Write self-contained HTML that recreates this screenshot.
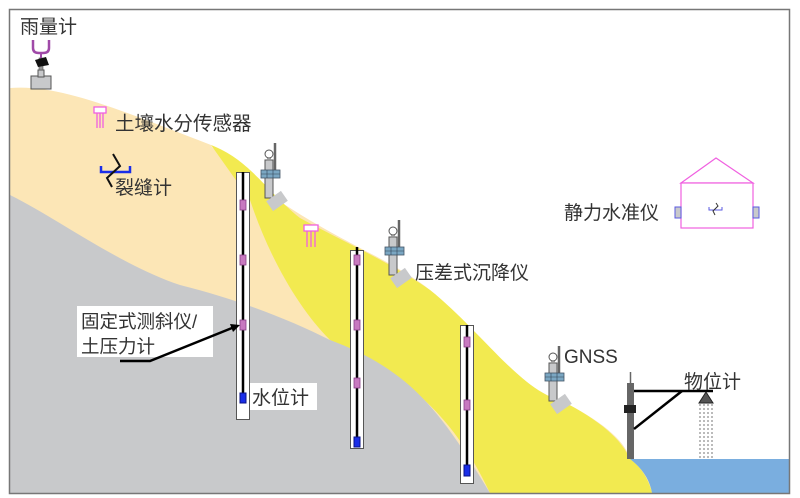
<!DOCTYPE html>
<html><head><meta charset="utf-8"><style>
html,body{margin:0;padding:0;background:#fff;width:800px;height:498px;overflow:hidden}
svg{display:block}
text{font-family:"Liberation Sans","Noto Sans CJK SC",sans-serif;fill:#333}
</style></head><body>
<svg width="800" height="498" viewBox="0 0 800 498" xmlns="http://www.w3.org/2000/svg">
<defs>
<g id="st">
  <rect x="0" y="0" width="8" height="38" fill="#c8c9cb" stroke="#555" stroke-width="1"/>
  <line x1="10" y1="-17" x2="10" y2="12" stroke="#666" stroke-width="2.5"/>
  <circle cx="4" cy="-6" r="4" fill="#fff" stroke="#555"/>
  <rect x="2" y="-2" width="4" height="3" fill="#999"/>
  <rect x="-4" y="10" width="19" height="8" fill="#7aa6c2" stroke="#456" stroke-width="0.8"/>
  <line x1="-4" y1="14" x2="15" y2="14" stroke="#345" stroke-width="0.6"/>
  <line x1="2" y1="10" x2="2" y2="18" stroke="#345" stroke-width="0.6"/>
  <line x1="8" y1="10" x2="8" y2="18" stroke="#345" stroke-width="0.6"/>
  <rect x="3" y="35" width="18" height="12" fill="#c8c9cb" transform="rotate(-35 12 41)"/>
</g>
<g id="mk"><rect x="-3" y="-5" width="6" height="10" fill="#c879c0" stroke="#8a3f88" stroke-width="0.8"/></g>
</defs>
<rect x="10" y="10" width="779" height="483" fill="#fff"/>
<path d="M10 88 C60 84 120 110 211 145 L212 147 C300 230 380 250 430 290 C480 330 520 390 560 400 C600 420 625 440 630 459 L789 459 L789 493 L10 493 Z" fill="#fce6b6"/>
<path d="M211 145 C250 160 265 190 300 218 C340 240 390 262 430 290 C480 330 520 390 560 400 C600 420 622 440 630 459 C645 470 650 485 652 493 L490 493 C460 430 420 380 330 340 C300 310 270 260 250 200 Z" fill="#f2ea50"/>
<path d="M10 195 C60 220 120 265 180 285 C240 300 290 320 330 340 C410 370 440 410 490 493 L10 493 Z" fill="#c8c9cb"/>
<path d="M630 459 L789 459 L789 493 L652 493 C650 480 642 468 630 459 Z" fill="#7aaedf"/>
<rect x="9.5" y="9.5" width="780" height="484" fill="none" stroke="#777" stroke-width="1.5"/>

<rect x="31" y="76" width="20" height="13" fill="#c8c9cb" stroke="#555"/>
<rect x="38" y="70" width="6" height="7" fill="#c8c9cb" stroke="#555"/>
<rect x="39" y="58" width="4" height="12" fill="#999" stroke="#555" stroke-width="0.6"/>
<polygon points="35,60 46,57 49,65 38,67" fill="#111"/>
<path d="M33 40 L33 48 Q33 53 39 53 L43 53 Q49 53 49 48 L49 40" fill="none" stroke="#a04aa8" stroke-width="2.5"/>
<line x1="41" y1="53" x2="41" y2="58" stroke="#a04aa8" stroke-width="2"/>
<text x="20" y="33" font-size="19">雨量计</text>

<g fill="none" stroke="#f060e0" stroke-width="1.3">
<rect x="94" y="107" width="12" height="6" fill="#fff"/>
<line x1="97" y1="113" x2="97" y2="128"/><line x1="100" y1="113" x2="100" y2="128"/><line x1="103" y1="113" x2="103" y2="128"/>
<rect x="304" y="225" width="14" height="6" fill="#fff"/>
<line x1="307" y1="231" x2="307" y2="247"/><line x1="311" y1="231" x2="311" y2="247"/><line x1="315" y1="231" x2="315" y2="247"/>
</g>
<text x="115" y="130" font-size="19.5">土壤水分传感器</text>

<path d="M101 166 L101 172 L130 172 L130 166" fill="none" stroke="#1a2ee8" stroke-width="2.5"/>
<path d="M113 154 L120 166 L107 178 L112 187" fill="none" stroke="#111" stroke-width="2"/>
<text x="115" y="194" font-size="19">裂缝计</text>

<g stroke="#555" fill="#fff">
<rect x="236.5" y="172.5" width="13" height="247"/>
<rect x="350.5" y="250.5" width="13" height="198"/>
<rect x="460.5" y="325.5" width="13" height="158"/>
</g>
<g stroke="#000" stroke-width="2.5">
<line x1="243" y1="172" x2="243" y2="400"/>
<line x1="357" y1="247" x2="357" y2="440"/>
<line x1="467" y1="325" x2="467" y2="465"/>
</g>
<use href="#mk" x="243" y="205"/><use href="#mk" x="243" y="260"/><use href="#mk" x="243" y="325"/>
<use href="#mk" x="357" y="260"/><use href="#mk" x="357" y="325"/><use href="#mk" x="357" y="383"/>
<use href="#mk" x="467" y="342"/><use href="#mk" x="467" y="405"/>
<rect x="240" y="393" width="6" height="10" fill="#1a2ee8" stroke="#0a1288"/>
<rect x="354" y="437" width="6" height="10" fill="#1a2ee8" stroke="#0a1288"/>
<rect x="464" y="465" width="6" height="11" fill="#1a2ee8" stroke="#0a1288"/>

<rect x="77" y="306" width="136" height="51" fill="#fff"/>
<text x="81" y="328" font-size="18.5">固定式测斜仪/</text>
<text x="81" y="353" font-size="18.5">土压力计</text>
<path d="M120 361 L150 361 L232 328" fill="none" stroke="#000" stroke-width="2.5"/>
<polygon points="240,325 230,324 233,332" fill="#000"/>
<rect x="250" y="383" width="67" height="27" fill="#fff"/>
<text x="252" y="404" font-size="19">水位计</text>

<use href="#st" x="265" y="160"/>
<use href="#st" x="389" y="237"/>
<use href="#st" x="549" y="363"/>
<text x="415" y="279" font-size="19">压差式沉降仪</text>
<text x="564" y="363" font-size="19">GNSS</text>

<rect x="627" y="383" width="7" height="76" fill="#666"/>
<line x1="630.5" y1="372" x2="630.5" y2="384" stroke="#666" stroke-width="1.5"/>
<rect x="624" y="405" width="12" height="8" fill="#222"/>
<line x1="634" y1="391" x2="713" y2="391" stroke="#000" stroke-width="2.5"/>
<line x1="634" y1="429" x2="682" y2="391" stroke="#000" stroke-width="2.5"/>
<polygon points="706,392 699,403 713,403" fill="#555" stroke="#222"/>
<g stroke="#777" stroke-width="1" stroke-dasharray="2,2">
<line x1="700" y1="404" x2="700" y2="459"/><line x1="704" y1="404" x2="704" y2="459"/><line x1="708" y1="404" x2="708" y2="459"/><line x1="712" y1="404" x2="712" y2="459"/>
</g>
<text x="684" y="388" font-size="19">物位计</text>

<polygon points="681,183 716,158 753,183" fill="none" stroke="#f060e0" stroke-width="1.2"/>
<rect x="681" y="183" width="72" height="45" fill="#fff" stroke="#f060e0" stroke-width="1.2"/>
<rect x="675" y="207" width="6" height="11" fill="#c8c9cb" stroke="#5a5ae0"/>
<rect x="753" y="207" width="6" height="11" fill="#c8c9cb" stroke="#5a5ae0"/>
<path d="M709 207 L709 210 L722 210 L722 207" fill="none" stroke="#5a5ae0" stroke-width="1"/>
<path d="M716 203 L718 206 L713 211 L715 215" fill="none" stroke="#333" stroke-width="1"/>
<text x="564" y="219" font-size="19">静力水准仪</text>
</svg>
</body></html>
